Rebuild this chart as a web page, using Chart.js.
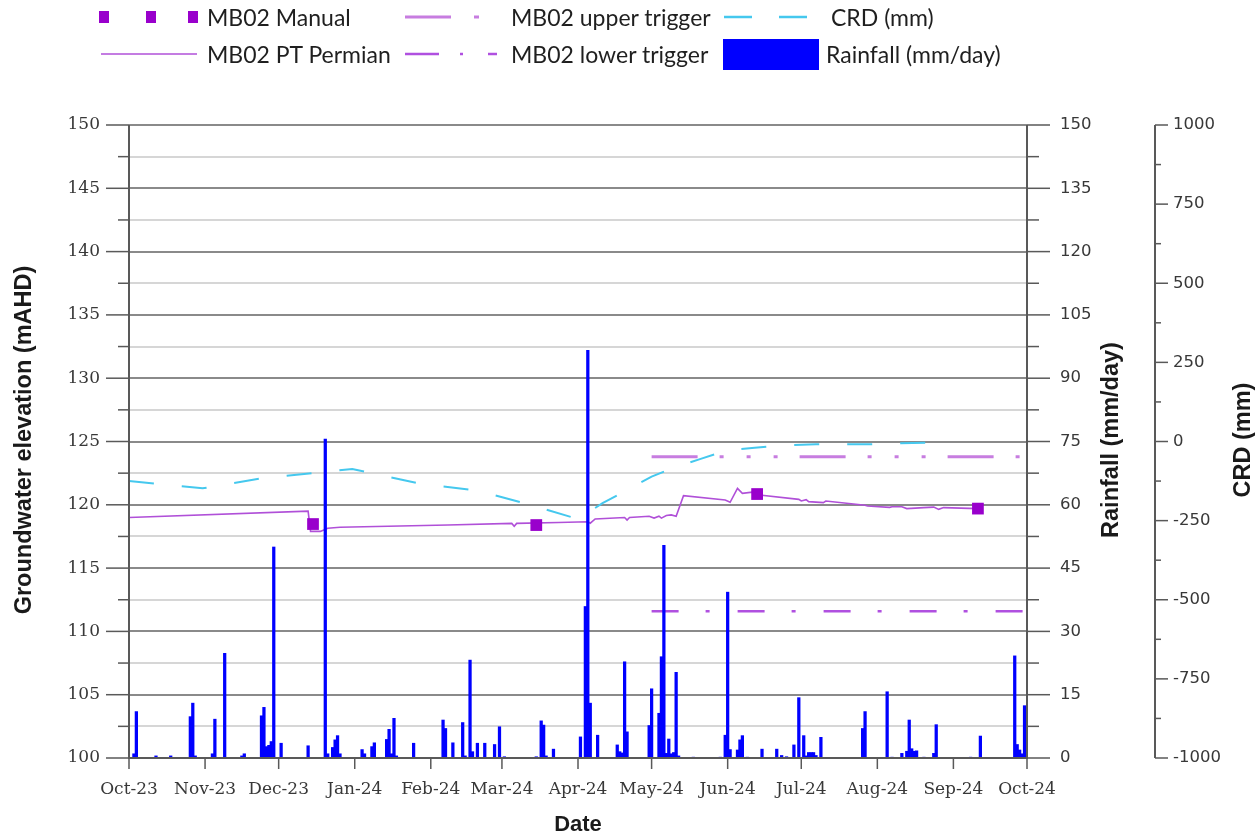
<!DOCTYPE html>
<html><head><meta charset="utf-8">
<script src="https://cdn.jsdelivr.net/npm/chart.js@4/dist/chart.umd.min.js"></script>
<style>
html,body{margin:0;padding:0;background:#fff;overflow:hidden}
#wrap{position:relative;width:1257px;height:837px;background:#fff}
#c{position:absolute;left:0;top:0}
#lgsvg{position:absolute;left:0;top:0}
.lg{position:absolute;font-family:Lato,'Open Sans',sans-serif;font-size:23px;color:#1f1f1f;line-height:24px;white-space:nowrap}
</style></head><body>
<div id="wrap">
<canvas id="c" width="1257" height="837"></canvas>
<svg id="lgsvg" width="1257" height="90">
  <rect x="99" y="11" width="10" height="12" fill="#9900CC"/>
  <rect x="146" y="11" width="10" height="12" fill="#9900CC"/>
  <rect x="188" y="11" width="10" height="12" fill="#9900CC"/>
  <line x1="405" y1="17" x2="451" y2="17" stroke="#C77DE0" stroke-width="3"/>
  <line x1="474" y1="17" x2="479" y2="17" stroke="#C77DE0" stroke-width="3"/>
  <line x1="724" y1="17" x2="752" y2="17" stroke="#45C8EE" stroke-width="2.5"/>
  <line x1="779" y1="17" x2="807" y2="17" stroke="#45C8EE" stroke-width="2.5"/>
  <line x1="101" y1="54" x2="197" y2="54" stroke="#B050D8" stroke-width="1.6"/>
  <line x1="405" y1="54" x2="439" y2="54" stroke="#B050E0" stroke-width="2.5"/>
  <line x1="460" y1="54" x2="463" y2="54" stroke="#B050E0" stroke-width="2.5"/>
  <line x1="488" y1="54" x2="497" y2="54" stroke="#B050E0" stroke-width="2.5"/>
  <rect x="723" y="39" width="96" height="31" fill="#0000FF"/>
</svg>
<div class="lg" style="left:207px;top:5px">MB02 Manual</div>
<div class="lg" style="left:511px;top:5px">MB02 upper trigger</div>
<div class="lg" style="left:831px;top:5px">CRD (mm)</div>
<div class="lg" style="left:207px;top:42px">MB02 PT Permian</div>
<div class="lg" style="left:511px;top:42px">MB02 lower trigger</div>
<div class="lg" style="left:826px;top:42px">Rainfall (mm/day)</div>
</div>
<script>
// ---- data (x values = days since 1 Oct 2023) ----
const startDate = '2023-10-01';
const monthStarts = ['2023-10-01','2023-11-01','2023-12-01','2024-01-01','2024-02-01','2024-03-01','2024-04-01','2024-05-01','2024-06-01','2024-07-01','2024-08-01','2024-09-01','2024-10-01'];
const monthLabels = ['Oct-23','Nov-23','Dec-23','Jan-24','Feb-24','Mar-24','Apr-24','May-24','Jun-24','Jul-24','Aug-24','Sep-24','Oct-24'];

const rainDay = [2,3,11,17,25,26,27,34,35,39,46,47,54,55,56,57,58,59,62,73,80,81,83,84,85,86,95,96,99,100,105,106,107,108,109,116,128,129,132,136,137,139,140,142,145,149,151,153,166,168,169,170,173,184,186,187,188,191,199,200,201,202,203,212,213,216,217,218,219,220,221,222,223,224,230,241,243,244,245,248,249,250,252,258,264,266,268,271,273,275,276,277,278,279,280,282,299,300,309,311,315,317,318,319,320,321,324,328,329,343,347,361,362,363,364,365];
const rainMm = [1,11,0.5,0.5,9.8,13,0.5,1,9.2,24.8,0.5,1,10,12,2.7,3,3.9,50,3.5,2.9,75.6,1,2.5,4.3,5.3,1,2,1,2.7,3.6,4.4,6.8,1,9.4,0.5,3.5,9,7,3.6,8.4,0.5,23.2,1.5,3.5,3.5,3.2,7.4,0.3,0.3,8.8,7.8,0.5,2.1,5,35.9,96.6,13,5.4,3.1,1.5,1.2,22.8,6.2,7.7,16.4,10.6,24,50.4,1.1,4.5,1,1.3,20.3,0.5,0.2,0.2,5.4,39.3,2,1.9,4.3,5.3,0.2,2.1,2.1,0.6,0.3,3.1,14.3,5.3,0.5,1.3,1.3,1.3,0.6,4.9,7,11,15.7,0.2,1.1,1.6,9,2.2,1.6,1.7,0.2,1.1,7.9,0.2,5.2,24.2,3.2,1.9,1,12.4];

const ptDay = [0,73,74,78,81,86,130,156,157,158,175,187,188,190,202,203,204,212,214,216,217,219,221,223,226,243,245,248,250,254,257,273,274,276,277,283,284,300,301,310,311,315,317,324,328,330,332,346];
const ptLevel = [119.0,119.5,117.9,117.9,118.15,118.23,118.4,118.53,118.3,118.53,118.6,118.66,118.55,118.88,119.0,118.8,119.0,119.1,118.95,119.1,118.95,119.15,119.2,119.1,120.72,120.38,120.2,121.3,120.9,121.0,120.77,120.43,120.3,120.4,120.25,120.17,120.3,119.96,119.9,119.8,119.85,119.85,119.7,119.78,119.82,119.64,119.78,119.7];

const manualDay = [75,166,256,346];
const manualLevel = [118.48,118.4,120.85,119.7];

const triggerDay = [213,366];
const upperTrigger = [123.8,123.8];
const lowerTrigger = [111.6,111.6];

const crdDay = [0,30,54,76,91,119,142,163,183,193,203,213,222,233,244,255,265,280,300,313,325,333];
const crdMm = [-125,-148,-116,-99,-87,-134,-155,-199,-245,-195,-153,-111,-83,-55,-27,-20,-13,-9,-9,-6,-4,-3];

// ---- helpers ----
const dayOf = s => Math.round((Date.parse(s) - Date.parse(startDate)) / 86400000);
const monthPos = monthStarts.map(dayOf);
const pts = (xs, ys) => xs.map((x, i) => ({x: x, y: ys[i]}));
const isMult = (v, m) => Math.abs(v / m - Math.round(v / m)) < 1e-6;

const AXIS = '#595959';
const TICKCOL = '#383838';

const decoPlugin = {
  id: 'deco',
  afterDraw(chart) {
    const ctx = chart.ctx, a = chart.chartArea;
    const sx = chart.scales.x, sy = chart.scales.y, sr = chart.scales.yRain, sc = chart.scales.yCrd;
    ctx.save();
    ctx.strokeStyle = AXIS;
    const seg = (x1, y1, x2, y2, w) => { ctx.lineWidth = w; ctx.beginPath(); ctx.moveTo(x1, y1); ctx.lineTo(x2, y2); ctx.stroke(); };
    // axis lines
    seg(a.left, a.top, a.left, a.bottom + 1, 2);
    seg(a.left - 1, a.bottom, a.right + 1, a.bottom, 2);
    seg(a.right, a.top, a.right, a.bottom + 1, 2);
    const cx = Math.round(sc.left) + 1;
    seg(cx, a.top, cx, a.bottom, 2);
    // left ticks
    sy.ticks.forEach(t => { const p = sy.getPixelForValue(t.value); seg(a.left - (isMult(t.value, 5) ? 23 : 11), p, a.left, p, 1.5); });
    // rain ticks
    sr.ticks.forEach(t => { const p = sr.getPixelForValue(t.value); seg(a.right, p, a.right + (isMult(t.value, 15) ? 23 : 12), p, 1.5); });
    // crd ticks
    sc.ticks.forEach(t => { const p = sc.getPixelForValue(t.value); seg(cx, p, cx + (isMult(t.value, 250) ? 13 : 6), p, 1.5); });
    // month ticks
    sx.ticks.forEach(t => { const p = sx.getPixelForValue(t.value); seg(p, a.bottom, p, a.bottom + 11, 1.5); });
    // axis titles
    ctx.fillStyle = '#1a1a1a';
    ctx.font = "bold 23.5px 'Liberation Sans', Arial, sans-serif";
    ctx.textAlign = 'center'; ctx.textBaseline = 'middle';
    const vtext = (txt, x, y) => { ctx.save(); ctx.translate(x, y); ctx.rotate(-Math.PI / 2); ctx.fillText(txt, 0, 0); ctx.restore(); };
    vtext('Groundwater elevation (mAHD)', 25, 440);
    vtext('Rainfall (mm/day)', 1112, 440);
    vtext('CRD (mm)', 1244, 440);
    ctx.font = "bold 22px 'Liberation Sans', Arial, sans-serif";
    ctx.fillText('Date', 578, 825);
    ctx.restore();
  }
};

new Chart(document.getElementById('c'), {
  type: 'line',
  data: {
    datasets: [
      {type: 'bar', label: 'Rainfall (mm/day)', data: pts(rainDay, rainMm), xAxisID: 'x', yAxisID: 'yRain',
       backgroundColor: '#0000FF', borderWidth: 0, barThickness: 2.6, order: 0},
      {type: 'line', label: 'MB02 Manual', data: pts(manualDay, manualLevel), yAxisID: 'y', showLine: false,
       pointStyle: 'rect', pointRadius: 8.3, pointBackgroundColor: '#9900CC', pointBorderColor: '#9900CC', pointBorderWidth: 0, order: 1},
      {type: 'line', label: 'MB02 PT Permian', data: pts(ptDay, ptLevel), yAxisID: 'y',
       borderColor: '#B050D8', borderWidth: 1.6, pointRadius: 0, tension: 0, order: 2},
      {type: 'line', label: 'MB02 upper trigger', data: pts(triggerDay, upperTrigger), yAxisID: 'y',
       borderColor: '#C77DE0', borderWidth: 3, borderDash: [46,22,4,23,4,23,4,22], pointRadius: 0, order: 3},
      {type: 'line', label: 'MB02 lower trigger', data: pts(triggerDay, lowerTrigger), yAxisID: 'y',
       borderColor: '#B050E0', borderWidth: 2.5, borderDash: [27,27,4,28], pointRadius: 0, order: 4},
      {type: 'line', label: 'CRD (mm)', data: pts(crdDay, crdMm), yAxisID: 'yCrd',
       borderColor: '#45C8EE', borderWidth: 2, borderDash: [25,28], pointRadius: 0, tension: 0, order: 5}
    ]
  },
  options: {
    responsive: false, animation: false, devicePixelRatio: 1,
    layout: {padding: {top: 125, left: 0, right: 0, bottom: 0}},
    plugins: {legend: {display: false}, tooltip: {enabled: false}},
    scales: {
      x: {type: 'linear', position: 'bottom', min: 0, max: 366, offset: false,
          afterBuildTicks(s) { s.ticks = monthPos.map(v => ({value: v})); },
          ticks: {autoSkip: false, maxRotation: 0, padding: 21, color: TICKCOL,
                  font: {family: "'DejaVu Serif', serif", size: 17},
                  callback: (v, i) => monthLabels[i]},
          grid: {display: false, drawTicks: false}, border: {display: false},
          afterFit(s) { s.height = 79; }},
      y: {type: 'linear', position: 'left', min: 100, max: 150,
          ticks: {stepSize: 2.5, autoSkip: false, padding: 29, color: TICKCOL,
                  font: {family: "'DejaVu Serif', serif", size: 17},
                  callback: v => isMult(v, 5) ? v : ''},
          grid: {drawTicks: false, lineWidth: 2, color: c => (c.tick && isMult(c.tick.value, 5)) ? '#8a8a8a' : '#d6d6d6'},
          border: {display: false},
          afterFit(s) { s.width = 129; }},
      yRain: {type: 'linear', position: 'right', weight: 0, min: 0, max: 150,
          ticks: {stepSize: 7.5, autoSkip: false, padding: 33, color: TICKCOL,
                  font: {family: "'DejaVu Sans', sans-serif", size: 16.5},
                  callback: v => isMult(v, 15) ? v : ''},
          grid: {display: false, drawTicks: false}, border: {display: false},
          afterFit(s) { s.width = 127; }},
      yCrd: {type: 'linear', position: 'right', weight: 1, min: -1000, max: 1000,
          ticks: {stepSize: 125, autoSkip: false, padding: 19, color: TICKCOL,
                  font: {family: "'DejaVu Sans', sans-serif", size: 16.5},
                  callback: v => isMult(v, 250) ? v : ''},
          grid: {display: false, drawTicks: false}, border: {display: false},
          afterFit(s) { s.width = 103; }}
    }
  },
  plugins: [decoPlugin]
});
</script>
</body></html>
